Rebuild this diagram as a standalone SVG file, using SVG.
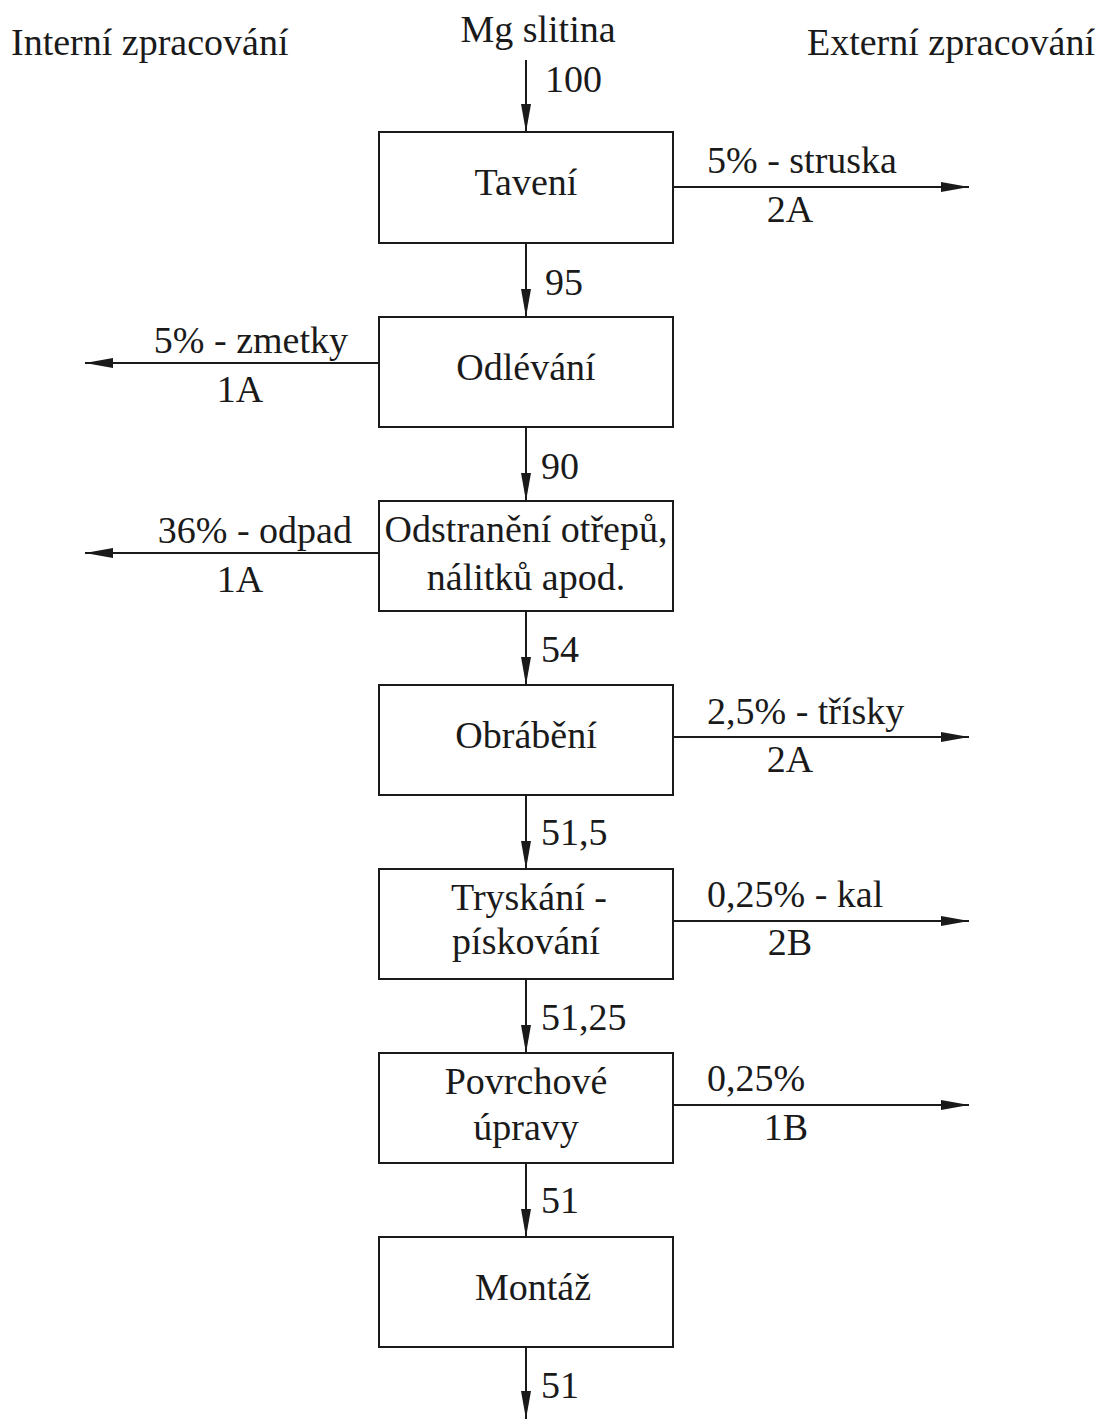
<svg xmlns="http://www.w3.org/2000/svg" width="1101" height="1419" viewBox="0 0 1101 1419">
<style>
text{font-family:"Liberation Serif","Times New Roman",serif;font-size:38px;fill:#1a1a1a}
.c{text-anchor:middle}
.e{text-anchor:end}
.box{fill:#fff;stroke:#1a1a1a;stroke-width:2}
.ln{stroke:#1a1a1a;stroke-width:2;fill:none;marker-end:url(#ah)}
</style>
<defs>
<marker id="ah" markerUnits="userSpaceOnUse" markerWidth="30" markerHeight="12" refX="28" refY="6" orient="auto">
<path d="M0,1 L28,6 L0,11 Z" fill="#1a1a1a"/>
</marker>
</defs>
<rect width="1101" height="1419" fill="#fff"/>
<text x="11" y="55">Interní zpracování</text>
<text x="538" y="42" class="c">Mg slitina</text>
<text x="1095" y="55" class="e">Externí zpracování</text>

<g id="connectors">
<line class="ln" x1="526" y1="60" x2="526" y2="132"/>
<line class="ln" x1="526" y1="243" x2="526" y2="317"/>
<line class="ln" x1="526" y1="427" x2="526" y2="501"/>
<line class="ln" x1="526" y1="611" x2="526" y2="685"/>
<line class="ln" x1="526" y1="795" x2="526" y2="869"/>
<line class="ln" x1="526" y1="979" x2="526" y2="1053"/>
<line class="ln" x1="526" y1="1163" x2="526" y2="1237"/>
<line class="ln" x1="526" y1="1347" x2="526" y2="1419"/>
<line class="ln" x1="673" y1="187" x2="969" y2="187"/>
<line class="ln" x1="379" y1="363" x2="85" y2="363"/>
<line class="ln" x1="379" y1="553" x2="85" y2="553"/>
<line class="ln" x1="673" y1="737" x2="969" y2="737"/>
<line class="ln" x1="673" y1="921" x2="969" y2="921"/>
<line class="ln" x1="673" y1="1105" x2="969" y2="1105"/>
<text x="545" y="92">100</text>
<text x="545" y="295">95</text>
<text x="541" y="479">90</text>
<text x="541" y="662">54</text>
<text x="541" y="845">51,5</text>
<text x="541" y="1030">51,25</text>
<text x="541" y="1213">51</text>
<text x="541" y="1398">51</text>
<text x="707" y="173">5% - struska</text>
<text x="790" y="222" class="c">2A</text>
<text x="348" y="353" class="e">5% - zmetky</text>
<text x="240" y="402" class="c">1A</text>
<text x="352" y="543" class="e">36% - odpad</text>
<text x="240" y="592" class="c">1A</text>
<text x="707" y="724">2,5% - třísky</text>
<text x="790" y="772" class="c">2A</text>
<text x="707" y="907">0,25% - kal</text>
<text x="790" y="955" class="c">2B</text>
<text x="707" y="1091">0,25%</text>
<text x="786" y="1140" class="c">1B</text>
</g>

<g id="n1"><rect class="box" x="379" y="132" width="294" height="111"/><text x="526" y="195" class="c">Tavení</text></g>
<g id="n2"><rect class="box" x="379" y="317" width="294" height="110"/><text x="526" y="380" class="c">Odlévání</text></g>
<g id="n3"><rect class="box" x="379" y="501" width="294" height="110"/><text x="526" y="542" class="c">Odstranění otřepů,</text><text x="526" y="590" class="c">nálitků apod.</text></g>
<g id="n4"><rect class="box" x="379" y="685" width="294" height="110"/><text x="526" y="748" class="c">Obrábění</text></g>
<g id="n5"><rect class="box" x="379" y="869" width="294" height="110"/><text x="529" y="910" class="c">Tryskání -</text><text x="526" y="954" class="c">pískování</text></g>
<g id="n6"><rect class="box" x="379" y="1053" width="294" height="110"/><text x="526" y="1094" class="c">Povrchové</text><text x="526" y="1140" class="c">úpravy</text></g>
<g id="n7"><rect class="box" x="379" y="1237" width="294" height="110"/><text x="533" y="1300" class="c">Montáž</text></g>
</svg>
